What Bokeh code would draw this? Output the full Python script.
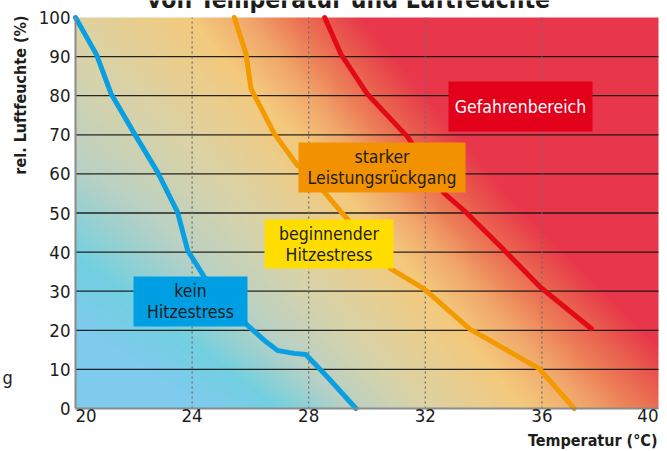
import numpy as np
from bokeh.plotting import figure
from bokeh.models import Range1d, FixedTicker, Label, BoxAnnotation, LinearAxis
from bokeh.embed import file_html
from bokeh.resources import INLINE

# ---------------- data ----------------
x_ticks = [20, 24, 28, 32, 36, 40]
y_ticks = [0, 10, 20, 30, 40, 50, 60, 70, 80, 90, 100]

# curve "kein Hitzestress" (blue)
blue_t = [20.0, 20.72, 21.22, 22.02, 22.82, 23.5, 23.85, 24.42, 25.91, 26.48, 26.94, 27.5, 27.9, 28.65, 29.62]
blue_h = [100, 90.5, 80.5, 70.3, 60.4, 50.2, 40.4, 33.6, 21.2, 17.4, 14.8, 14.1, 13.8, 8.0, 0]
# curve "beginnender Hitzestress" (orange)
orange_t = [25.45, 25.85, 26.02, 26.82, 27.62, 28.0, 28.54, 29.17, 30.82, 31.96, 33.51, 35.91, 37.11]
orange_h = [100, 90.7, 81.8, 70.3, 62.1, 61.0, 55.3, 49.8, 35.7, 30.6, 20.4, 10.2, 0]
# curve towards "Gefahrenbereich" (red)
red_t = [28.55, 29.1, 30.0, 31.4, 32.65, 33.35, 34.6, 35.95, 37.7]
red_h = [100, 90.7, 80.5, 69.4, 55.0, 50.5, 41.3, 31.0, 20.4]

title_text = "von Temperatur und Luftfeuchte"
x_label = "Temperatur (°C)"
y_label = "rel. Luftfeuchte (%)"
side_text = "g"

FONT = "DejaVu Sans Condensed"
TXT = "#1d1d1b"

# ---------------- layout constants (page pixels) ----------------
W, H = 667, 451
FL, FR, FT, FB = 75, 658, 17, 408          # plot area edges
XPX = (FR - FL) / (x_ticks[-1] - x_ticks[0])  # px per degree
YPX = (FB - FT) / (y_ticks[-1] - y_ticks[0])  # px per percent


def dx(X):
    return x_ticks[0] + (X - FL) / XPX


def dy(Y):
    return y_ticks[0] + (FB - Y) / YPX


# ---------------- background gradient (style) ----------------
grad_levels = [0, 50, 100]
grad_stops = [
    ("#7fcbee", [24.5, 14.0, 2.0]),
    ("#72d0e1", [27.0, 18.0, 6.0]),
    ("#b9d1c5", [29.4, 22.3, 13.0]),
    ("#dcd3a6", [32.0, 26.2, 19.5]),
    ("#f4c97c", [35.5, 29.8, 24.0]),
    ("#f1a86c", [37.5, 31.3, 25.8]),
    ("#ed7e58", [39.2, 32.6, 27.2]),
    ("#ea5a4e", [40.8, 34.0, 28.5]),
    ("#e8374a", [42.2, 35.4, 29.8]),
]


def hex2rgb(h):
    h = h.lstrip("#")
    return [int(h[i:i + 2], 16) for i in (0, 2, 4)]


nx, ny = 600, 400
xs = 20 + (np.arange(nx) + 0.5) / nx * 20
ys = (np.arange(ny) + 0.5) / ny * 100
cols = np.array([hex2rgb(c) for c, _ in grad_stops], dtype=float)
img = np.zeros((ny, nx, 4), dtype=np.uint8)
for j, yv in enumerate(ys):
    sx = [np.interp(yv, grad_levels, pos) for _, pos in grad_stops]
    for k in range(3):
        img[j, :, k] = np.clip(np.interp(xs, sx, cols[:, k]), 0, 255).astype(np.uint8)
img[..., 3] = 255
packed = img.view(np.uint32).reshape(ny, nx)

# ---------------- figure (frame = whole canvas) ----------------
p = figure(width=W, height=H, x_range=Range1d(dx(0), dx(W)), y_range=Range1d(dy(H), dy(0)),
           output_backend="svg", toolbar_location=None, title=None,
           x_axis_location=None, y_axis_location=None,
           min_border_left=0, min_border_right=0, min_border_top=0, min_border_bottom=0)
p.outline_line_color = None
p.border_fill_color = "white"
p.background_fill_color = "white"
p.grid.visible = False

p.image_rgba(image=[packed], x=x_ticks[0], y=y_ticks[0], dw=x_ticks[-1] - x_ticks[0],
             dh=y_ticks[-1] - y_ticks[0], level="image")

# grid lines
hy = y_ticks[1:-1]
p.segment(x0=[x_ticks[0]] * len(hy), x1=[x_ticks[-1]] * len(hy), y0=hy, y1=hy,
          line_color="#111111", line_alpha=0.9, line_width=1.3)
vx = x_ticks[1:-1]
p.segment(x0=vx, x1=vx, y0=[y_ticks[0]] * len(vx), y1=[y_ticks[-1]] * len(vx),
          line_color="#6b6b6b", line_width=1.2, line_dash="2 3")

# axes fixed at the plot area edges
yax = LinearAxis(fixed_location=x_ticks[0], bounds=(y_ticks[0], y_ticks[-1]),
                 ticker=FixedTicker(ticks=y_ticks))
half_w = 10.6 / XPX
x_label_pos = list(x_ticks)
x_label_pos[0] = x_ticks[0] + half_w
x_label_pos[-1] = x_ticks[-1] - half_w
xax = LinearAxis(fixed_location=y_ticks[0], bounds=(x_ticks[0], x_ticks[-1]),
                 ticker=FixedTicker(ticks=x_label_pos))
xax.major_label_overrides = {pos: str(t) for pos, t in zip(x_label_pos, x_ticks)}
for ax in (xax, yax):
    ax.axis_line_color = "#8a8a8a"
    ax.axis_line_width = 2
    ax.major_tick_line_color = None
    ax.minor_tick_line_color = None
    ax.major_tick_out = 0
    ax.major_tick_in = 0
    ax.major_label_text_font = FONT
    ax.major_label_text_font_size = "18.5px"
    ax.major_label_text_color = TXT
xax.major_label_standoff = 0
yax.major_label_standoff = 5

# curves
p.line(blue_t, blue_h, line_color="#0a9fe0", line_width=5, line_cap="round", line_join="round")
p.line(orange_t, orange_h, line_color="#f39a00", line_width=5, line_cap="round", line_join="round")
p.line(red_t, red_h, line_color="#e30a17", line_width=5, line_cap="round", line_join="round")

p.add_layout(yax, "left")
p.add_layout(xax, "below")

# axis titles
p.add_layout(Label(x=dx(657), y=dy(440), text=x_label, text_align="right",
                   text_baseline="middle", text_font=FONT, text_font_size="16px",
                   text_font_style="bold", text_color=TXT))
p.add_layout(Label(x=dx(20), y=dy(15), text=y_label, angle=np.pi / 2, text_align="right",
                   text_baseline="middle", text_font=FONT, text_font_size="16px",
                   text_font_style="bold", text_color=TXT))
# main title, cut off at the very top as in the source picture
p.add_layout(Label(x=dx(348), y=dy(-1.5), text=title_text, text_align="center",
                   text_baseline="middle", text_font=FONT, text_font_size="24.5px",
                   text_font_style="bold", text_color=TXT))
# cut-off text at the left edge
p.add_layout(Label(x=dx(2), y=dy(377), text=side_text, text_align="left",
                   text_baseline="middle", text_font=FONT, text_font_size="18px",
                   text_color=TXT))

# region label boxes
boxes = [
    # (page left, right, top, bottom, fill, text lines, text color)
    (448, 592, 81, 131, "#e2001a", ["Gefahrenbereich"], "white"),
    (298, 465, 142, 192, "#f39200", ["starker", "Leistungsrückgang"], TXT),
    (264, 393, 219, 268, "#ffdd00", ["beginnender", "Hitzestress"], TXT),
    (133, 247, 276, 326, "#009fe3", ["kein", "Hitzestress"], TXT),
]
for (L, R, T, B, fill, lines, tc) in boxes:
    p.add_layout(BoxAnnotation(left=dx(L), right=dx(R), top=dy(T), bottom=dy(B),
                               fill_color=fill, fill_alpha=1.0, line_color=None))
    cx = (L + R) / 2
    cy = (T + B) / 2
    n = len(lines)
    for k, txt in enumerate(lines):
        yy = cy + (k - (n - 1) / 2) * 21
        p.add_layout(Label(x=dx(cx), y=dy(yy), text=txt, text_align="center",
                           text_baseline="middle", text_font=FONT, text_font_size="17.5px",
                           text_color=tc))

open("out.html", "w").write(file_html(p, INLINE))
